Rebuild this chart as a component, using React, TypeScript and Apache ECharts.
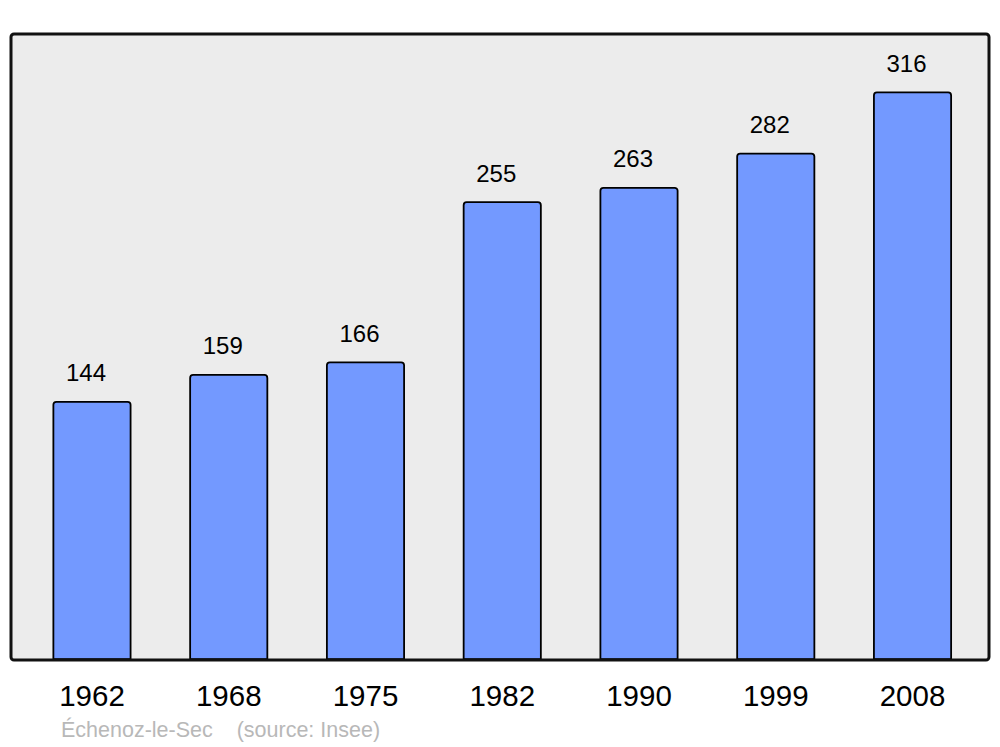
import React, { useEffect, useRef } from "react";
import * as echarts from "echarts";

const years = ["1962", "1968", "1975", "1982", "1990", "1999", "2008"];
const population = [144, 159, 166, 255, 263, 282, 316];
const footerText = "Échenoz-le-Sec    (source: Insee)";

export default function App() {
  const ref = useRef<HTMLDivElement>(null);
  useEffect(() => {
    if (!ref.current) return;
    const chart = echarts.init(ref.current, undefined, { renderer: "svg" });
    chart.setOption({
      animation: false,
      grid: { left: 23.6, right: 19.1, top: 34, bottom: 87 },
      xAxis: {
        type: "category",
        data: years,
        axisLine: { show: false },
        axisTick: { show: false },
        axisLabel: {
          color: "#000",
          fontSize: 29.5,
          fontFamily: "Liberation Sans, Arial, sans-serif",
          margin: 20,
        },
      },
      yAxis: {
        type: "value",
        min: 0,
        max: 348,
        show: false,
        splitLine: { show: false },
      },
      graphic: [
        {
          type: "rect",
          z: -10,
          shape: { x: 11, y: 34, width: 978, height: 626, r: 3 },
          style: { fill: "#ececec", stroke: "none" },
        },
        {
          type: "rect",
          z: 100,
          shape: { x: 11, y: 34, width: 978, height: 626, r: 3 },
          style: { fill: "none", stroke: "#111", lineWidth: 3 },
        },
        {
          type: "text",
          x: 61,
          y: 730,
          style: {
            text: footerText,
            fill: "#b8b8b8",
            fontSize: 21.5,
            fontFamily: "Liberation Sans, Arial, sans-serif",
            textVerticalAlign: "middle",
          },
        },
      ],
      series: [
        {
          type: "bar",
          data: population,
          barWidth: 79,
          itemStyle: {
            color: "#7399ff",
            borderColor: "#000",
            borderWidth: 1.8,
            borderRadius: [3, 3, 0, 0],
          },
          label: {
            show: true,
            position: "top",
            distance: 16,
            offset: [-6, 0],
            color: "#000",
            fontSize: 24,
            fontFamily: "Liberation Sans, Arial, sans-serif",
          },
        },
      ],
    });
    return () => chart.dispose();
  }, []);
  return <div ref={ref} style={{ width: 1000, height: 747, position: "absolute", left: 0, top: 0 }} />;
}
